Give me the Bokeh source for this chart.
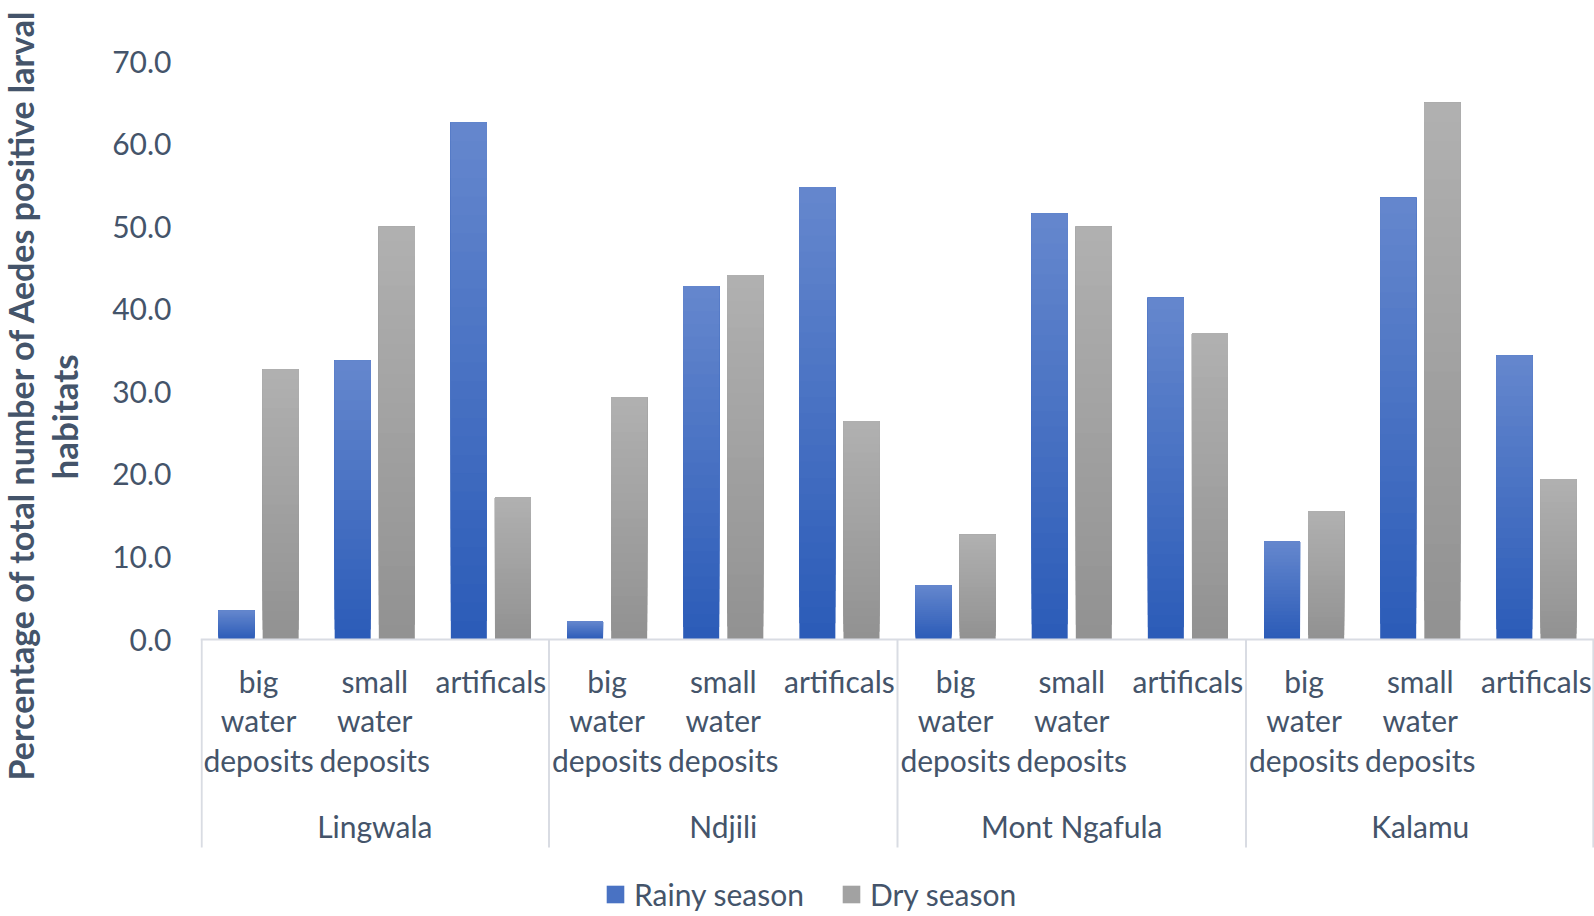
from bokeh.plotting import figure
from bokeh.models import (Range1d, FixedTicker, NumeralTickFormatter, Title,
                          Legend, LegendItem, ColumnDataSource)
from bokeh.core.properties import value
from bokeh.embed import file_html
from bokeh.resources import INLINE

# ---------------- data ----------------
districts = ["Lingwala", "Ndjili", "Mont Ngafula", "Kalamu"]
habitats = ["big water deposits", "small water deposits", "artificals"]
rainy = [3.5, 33.8, 62.6, 2.2, 42.8, 54.8, 6.6, 51.6, 41.4, 11.9, 53.5, 34.4]
dry = [32.7, 50.0, 17.2, 29.3, 44.1, 26.4, 12.7, 50.0, 37.1, 15.5, 65.0, 19.4]
series_names = ["Rainy season", "Dry season"]
y_ticks = [0, 10, 20, 30, 40, 50, 60, 70]
y_title = ["Percentage of total number of Aedes positive larval", "habitats"]

# ---------------- layout ----------------
W, H = 1594, 916
LEFT, TOP = 200, 61
ZERO_PX = 639
YMAX = 70
ppu = (ZERO_PX - TOP) / YMAX
def ypx(py):
    return YMAX - (py - TOP) / ppu

FONT = "Lato"
TXT = "#44546A"
n_sub = len(habitats)
n_cat = len(districts) * n_sub

p = figure(width=W, height=H, output_backend="svg", toolbar_location=None,
           x_range=Range1d(0, n_cat), y_range=Range1d(ypx(H), YMAX),
           min_border_left=LEFT, min_border_right=0, min_border_top=TOP,
           min_border_bottom=0)
p.outline_line_color = None
p.xaxis.visible = False
p.xgrid.visible = False
p.ygrid.visible = False

ax = p.yaxis[0]
ax.ticker = FixedTicker(ticks=y_ticks)
ax.formatter = NumeralTickFormatter(format="0.0")
ax.axis_line_color = None
ax.major_tick_line_color = None
ax.minor_tick_line_color = None
ax.major_tick_out = 0
ax.major_tick_in = 0
ax.major_label_standoff = 29
ax.major_label_text_font = FONT
ax.major_label_text_font_size = "30px"
ax.major_label_text_color = TXT

# ---------------- bars with vertical gradient ----------------
def lerp(c0, c1, t):
    return "#%02x%02x%02x" % tuple(int(round(a + (b - a) * t)) for a, b in zip(c0, c1))

blue_bot, blue_top = (44, 92, 184), (102, 136, 206)
gray_bot, gray_top = (146, 146, 146), (177, 177, 177)

BW = 0.31
xs_r = [i + 0.31 for i in range(n_cat)]
xs_d = [i + 0.69 for i in range(n_cat)]
N = 28
legend_r = {}
for vals, xs, c0, c1, name in [(rainy, xs_r, blue_bot, blue_top, series_names[0]),
                               (dry, xs_d, gray_bot, gray_top, series_names[1])]:
    for k in range(N):
        f = k / N
        src = ColumnDataSource(dict(x=xs, bottom=[v * f for v in vals], top=vals))
        r = p.vbar(x="x", bottom="bottom", top="top", width=BW, source=src,
                   fill_color=lerp(c0, c1, f), line_color=None)
        if k == N // 2:
            legend_r[name] = r

# ---------------- axis line & separators ----------------
sep_col = "#D9DCE3"
p.segment(x0=[0], y0=[0], x1=[n_cat], y1=[0], line_color=sep_col, line_width=2)
sx = [g * n_sub for g in range(len(districts) + 1)]
sx[0] = 0.01
sx[-1] = n_cat - 0.01
p.segment(x0=sx, y0=[0] * len(sx), x1=sx, y1=[ypx(847)] * len(sx),
          line_color=sep_col, line_width=2)

# ---------------- category labels ----------------
sub_x = [i + 0.5 for i in range(n_cat)]
sub_txt = [habitats[i % n_sub].replace(" ", "\n") for i in range(n_cat)]
p.text(x=sub_x, y=[ypx(662)] * n_cat, text=sub_txt, text_align="center",
       text_baseline="top", text_font=value(FONT), text_font_size="30px",
       text_color=TXT, text_line_height=1.1)
grp_x = [g * n_sub + n_sub / 2 for g in range(len(districts))]
p.text(x=grp_x, y=[ypx(825)] * len(districts), text=districts, text_align="center",
       text_baseline="middle", text_font=value(FONT), text_font_size="30px",
       text_color=TXT)

# ---------------- y title (two stacked left-side titles) ----------------
for txt, off, stand, va, fs in [(y_title[1], 437, 45, "top", "35px"),
                                (y_title[0], 136, -46, "middle", "34px")]:
    p.add_layout(Title(text=txt, align="left", offset=off, standoff=stand,
                       vertical_align=va,
                       text_font=FONT, text_font_style="bold",
                       text_font_size=fs, text_color=TXT), "left")

# ---------------- legend ----------------
legend = Legend(items=[LegendItem(label=n, renderers=[legend_r[n]]) for n in series_names],
                orientation="horizontal", location=(404, 4),
                border_line_color=None, background_fill_alpha=0,
                padding=0, margin=0, glyph_width=22, glyph_height=22,
                label_standoff=8, spacing=36,
                label_text_font=FONT, label_text_font_size="30px",
                label_text_color=TXT)
p.add_layout(legend)

open("out.html", "w").write(file_html(p, INLINE))
